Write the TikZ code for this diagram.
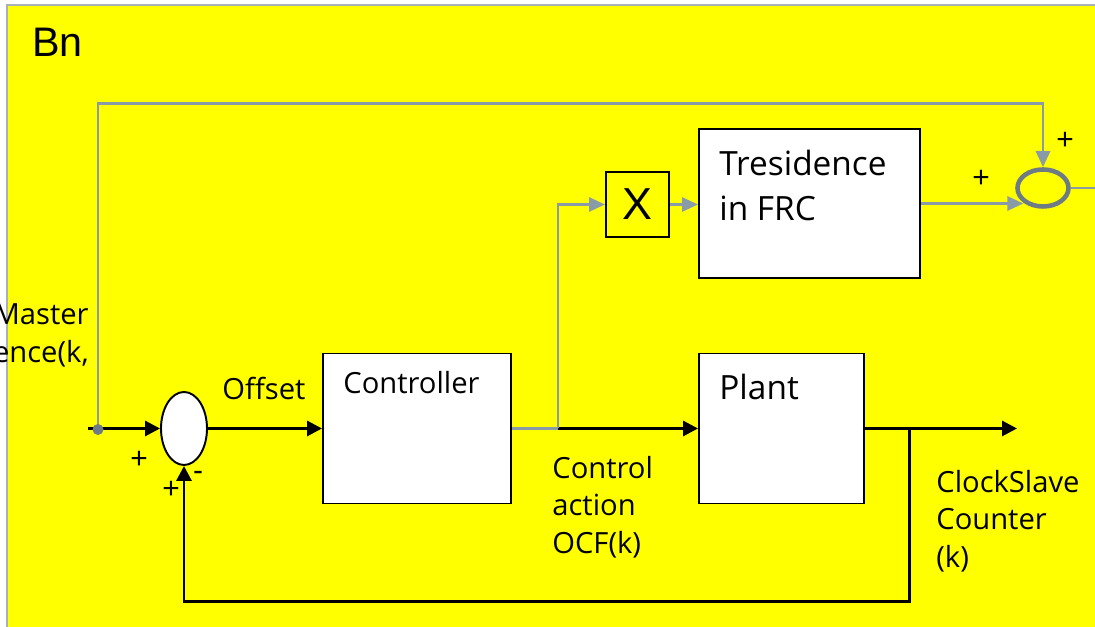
\documentclass[tikz,border=0pt]{standalone}
\usepackage{fontspec}
\setmainfont{Open Sans}
\newfontfamily\arialfont{Liberation Sans}
\usetikzlibrary{arrows.meta,positioning,shapes.geometric}
\definecolor{BG}{HTML}{FFFF00}
\definecolor{FRAME}{HTML}{A9B1B8}
\definecolor{WIRE}{HTML}{8A9BA8}
\definecolor{RING}{HTML}{6D7B85}

\begin{document}
\begin{tikzpicture}[
  blk/.style={draw=black, line width=1.1pt, fill=white, minimum height=3cm, inner sep=0pt},
  sumw/.style={ellipse, draw=black, line width=1.1pt, fill=white, minimum width=0.92cm, minimum height=1.46cm, inner sep=0pt},
  sumg/.style={ellipse, draw=RING, line width=2.6pt, minimum width=1.02cm, minimum height=0.74cm, inner sep=0pt},
  dot/.style={circle, fill=RING, minimum size=0.22cm, inner sep=0pt},
  wire/.style={line width=1.7pt, -{Triangle[length=3mm,width=3mm]}},
  gwire/.style={WIRE, line width=1.6pt, -{Triangle[length=3.2mm,width=2.8mm]}},
  lbl/.style={font=\fontsize{16.6}{21.5}\selectfont, inner sep=0pt, align=left},
  big/.style={font=\fontsize{19}{25.5}\selectfont, inner sep=0pt, align=left},
  sgn/.style={font=\arialfont\fontsize{17}{20}\selectfont, inner sep=0pt},
]
\useasboundingbox (0,0) rectangle (21.9,12.54);
\clip (0,0) rectangle (21.9,12.54);

% ===== frame =====
\draw[FRAME, line width=1.2pt, fill=BG] (0.14,-0.5) rectangle (22.5,12.44);
\node[font=\arialfont\fontsize{23.5}{28}\selectfont, anchor=base west, inner sep=0pt] (bn) at (0.64,11.4) {Bn};

% ===== main loop =====
\coordinate (in) at (1.76,3.97);
\coordinate (tapc) at (1.96,3.95);
\node[sumw] (s1) at (3.68,3.97) {};
\node[blk, minimum width=3.76cm] (ctrl) at (8.34,3.97) {};
\node[blk, minimum width=3.30cm] (plant) at (15.63,3.97) {};
\coordinate (br) at (11.16,3.97);
\coordinate (fb) at (18.18,3.97);
\coordinate (out) at (20.34,3.97);
\coordinate (fbl) at (3.68,0.5);

% ===== upper path =====
\node[blk, fill=none, minimum width=1.26cm, minimum height=1.30cm, font=\arialfont\fontsize{25.5}{30}\selectfont] (mul) at (12.75,8.45) {X};
\node[blk, minimum width=4.42cm, minimum height=2.98cm] (tres) at (16.19,8.47) {};
\node[sumg] (s2) at (20.86,8.78) {};
\coordinate (top) at (20.86,10.47);
\coordinate (so) at (22.1,8.78);

% box texts
\node[lbl, anchor=base west] (ctrltxt) at ([shift={(0.42,-0.82)}]ctrl.north west) {Controller};
\node[big, anchor=base west] (planttxt) at ([shift={(0.42,-0.94)}]plant.north west) {Plant};
\node[big, anchor=north west] (trestxt) at ([shift={(0.42,-0.44)}]tres.north west) {Tresidence\\in FRC};

% signal labels
\node[lbl, anchor=north east, align=right] (master) at (1.78,6.47) {Master\\ence(k,};
\node[lbl, anchor=base west] (offset) at (4.44,4.54) {Offset};
\node[lbl, anchor=north west] (ocf) at (11.04,3.43) {Control\\action\\OCF(k)};
\node[lbl, anchor=north west] (slave) at (18.72,3.15) {ClockSlave\\Counter\\(k)};
\node[sgn] (p1) at (2.78,3.34) {+};
\node[sgn] (p2) at (3.42,2.74) {+};
\node[sgn] (m2) at (3.96,3.02) {-};
\node[sgn] (p3) at (19.62,8.96) {+};
\node[sgn] (p4) at (21.3,9.72) {+};

% wires
\draw[wire] (in) -- (s1);
\draw[wire] (s1) -- (ctrl);
\draw[WIRE, line width=1.6pt] (ctrl.east) -- (br);
\draw[wire] (br) -- (plant);
\draw[wire] (plant.east) -- (out);
\draw[wire] (fb) |- (fbl) -- (s1);
\draw[gwire] (br) |- (mul);
\draw[gwire] (mul.east) -- (mul.east -| tres.west);
\draw[gwire] (tres.east) -- (tres.east -| s2.217);
\draw[gwire] (tapc) |- (top) -- (s2);
\draw[WIRE, line width=1.6pt] (s2.east) -- (so);
\node[dot] (tap) at (tapc) {};

\end{tikzpicture}
\end{document}
